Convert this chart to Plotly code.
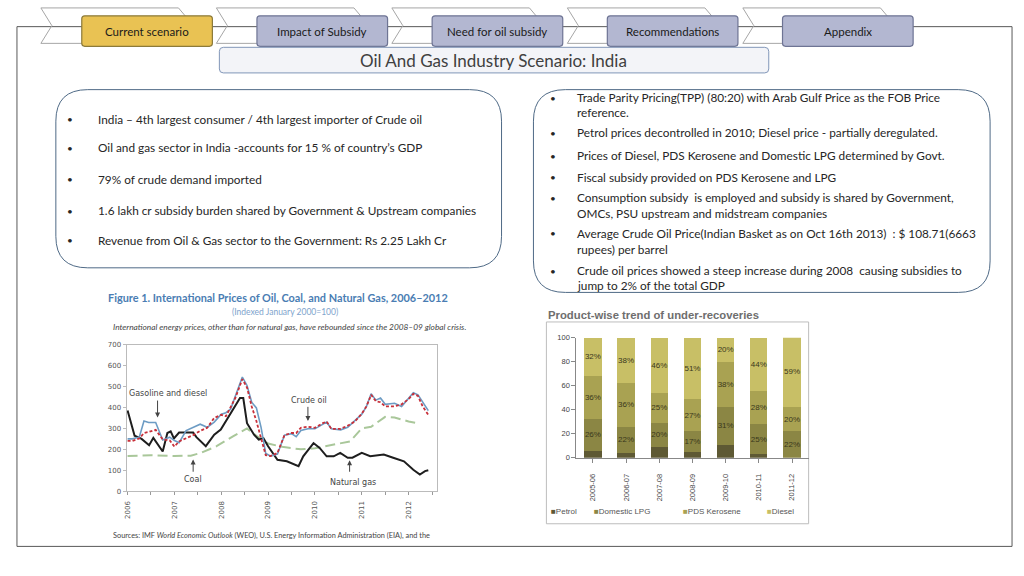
import plotly.graph_objects as go

W, H = 1024, 576

# ---------------- data ----------------
years = [2006, 2007, 2008, 2009, 2010, 2011, 2012]
y_ticks = [0, 100, 200, 300, 400, 500, 600, 700]

oil_t = [2006.0, 2006.1, 2006.25, 2006.35, 2006.45, 2006.6, 2006.75, 2006.9, 2007.0, 2007.1,
         2007.25, 2007.4, 2007.55, 2007.7, 2007.85, 2008.0, 2008.1, 2008.2, 2008.3, 2008.45,
         2008.55, 2008.65, 2008.75, 2008.85, 2008.95, 2009.05, 2009.2, 2009.35, 2009.5, 2009.6,
         2009.7, 2009.85, 2010.0, 2010.15, 2010.25, 2010.35, 2010.55, 2010.7, 2010.85, 2011.0,
         2011.1, 2011.2, 2011.3, 2011.4, 2011.5, 2011.7, 2011.85, 2012.0, 2012.1, 2012.2,
         2012.3, 2012.42]
gasoline_diesel = [250, 250, 258, 335, 328, 328, 245, 258, 242, 232,
                   290, 305, 320, 305, 330, 368, 375, 392, 455, 545,
                   505, 425, 398, 305, 180, 168, 178, 268, 275, 260,
                   290, 298, 298, 315, 330, 298, 293, 305, 337, 368,
                   405, 465, 435, 445, 415, 420, 405, 445, 470, 460,
                   425, 385]
crude_oil = [240, 240, 252, 278, 283, 293, 248, 243, 213, 238,
             253, 268, 288, 303, 350, 365, 358, 400, 445, 535,
             495, 405, 335, 253, 172, 168, 183, 268, 278, 278,
             303, 308, 303, 323, 333, 298, 298, 313, 333, 370,
             405, 460, 430, 425, 405, 405, 415, 440, 465, 455,
             405, 365]

gas_t = [2006.0, 2006.15, 2006.3, 2006.46, 2006.55, 2006.75, 2006.85, 2006.92, 2006.99, 2007.1,
         2007.4, 2007.47, 2007.67, 2007.85, 2007.99, 2008.2, 2008.4, 2008.47, 2008.55, 2008.7,
         2008.8, 2008.9, 2009.0, 2009.2, 2009.4, 2009.65, 2009.75, 2009.97, 2010.1, 2010.25,
         2010.4, 2010.54, 2010.7, 2010.8, 2011.0, 2011.18, 2011.47, 2011.67, 2011.9, 2012.1,
         2012.24, 2012.35, 2012.42]
natural_gas = [385, 265, 250, 220, 255, 190, 278, 286, 252, 280,
               280, 258, 215, 270, 295, 373, 445, 445, 325, 270,
               247, 253, 215, 150, 143, 120, 167, 230, 207, 167,
               167, 183, 160, 160, 183, 167, 175, 160, 143, 103,
               80, 96, 100]

coal_t = [2006.0, 2006.5, 2007.0, 2007.35, 2007.55, 2007.9, 2008.25, 2008.55, 2008.75, 2009.0,
          2009.3, 2009.7, 2010.0, 2010.4, 2010.75, 2011.0, 2011.2, 2011.5, 2011.7, 2012.0, 2012.2]
coal = [168, 172, 168, 170, 182, 215, 262, 300, 265, 228,
        212, 200, 205, 222, 238, 300, 308, 355, 352, 333, 325]

fy = ["2005-06", "2006-07", "2007-08", "2008-09", "2009-10", "2010-11", "2011-12"]
petrol = [6, 4, 9, 5, 11, 3, 0]
domestic_lpg = [26, 22, 20, 17, 31, 25, 22]
pds_kerosene = [36, 36, 25, 27, 38, 28, 20]
diesel = [32, 38, 46, 51, 20, 44, 59]
pct_ticks = [0, 20, 40, 60, 80, 100]

tabs = ["Current scenario", "Impact of Subsidy", "Need for oil subsidy", "Recommendations", "Appendix"]
left_points = [
    "India \u2013 4th largest consumer / 4th largest importer of Crude oil",
    "Oil and gas sector in India -accounts for 15 % of country\u2019s GDP",
    "79% of crude demand imported",
    "1.6 lakh cr subsidy burden shared by Government & Upstream companies",
    "Revenue from Oil & Gas sector to the Government: Rs 2.25 Lakh Cr",
]
right_points = [
    ["Trade Parity Pricing(TPP) (80:20) with Arab Gulf Price as the FOB Price", "reference."],
    ["Petrol prices decontrolled in 2010; Diesel price - partially deregulated."],
    ["Prices of Diesel, PDS Kerosene and Domestic LPG determined by Govt."],
    ["Fiscal subsidy provided on PDS Kerosene and LPG"],
    ["Consumption subsidy  is employed and subsidy is shared by Government,",
     "OMCs, PSU upstream and midstream companies"],
    ["Average Crude Oil Price(Indian Basket as on Oct 16th 2013)  : $ 108.71(6663",
     "rupees) per barrel"],
    ["Crude oil prices showed a steep increase during 2008  causing subsidies to",
     "jump to 2% of the total GDP"],
]

# ---------------- helpers ----------------
def px(x):
    return x / W

def py(y):
    return 1 - y / H

def rrect(x0, y0, x1, y1, r):
    pts = [
        ("M", [(x0 + r, y0)]), ("L", [(x1 - r, y0)]), ("Q", [(x1, y0), (x1, y0 + r)]),
        ("L", [(x1, y1 - r)]), ("Q", [(x1, y1), (x1 - r, y1)]), ("L", [(x0 + r, y1)]),
        ("Q", [(x0, y1), (x0, y1 - r)]), ("L", [(x0, y0 + r)]), ("Q", [(x0, y0), (x0 + r, y0)]),
    ]
    s = ""
    for cmd, ps in pts:
        s += cmd + " " + " ".join(f"{px(a):.5f},{py(b):.5f}" for a, b in ps) + " "
    return s + "Z"

def poly(points, close=True):
    s = "M " + " L ".join(f"{px(a):.5f},{py(b):.5f}" for a, b in points)
    return s + (" Z" if close else "")

BODY = "Lato"
fig = go.Figure()

# ---------------- line chart ----------------
fig.add_trace(go.Scatter(x=coal_t, y=coal, mode="lines", name="Coal",
                         line=dict(color="#A9C79A", width=2, dash="10px,5px"),
                         xaxis="x", yaxis="y", showlegend=False))
fig.add_trace(go.Scatter(x=gas_t, y=natural_gas, mode="lines", name="Natural gas",
                         line=dict(color="#1E1E1E", width=2),
                         xaxis="x", yaxis="y", showlegend=False))
fig.add_trace(go.Scatter(x=oil_t, y=gasoline_diesel, mode="lines", name="Gasoline and diesel",
                         line=dict(color="#6D9CC4", width=1.6),
                         xaxis="x", yaxis="y", showlegend=False))
fig.add_trace(go.Scatter(x=oil_t, y=crude_oil, mode="lines", name="Crude oil",
                         line=dict(color="#C8303A", width=1.8, dash="3px,2px"),
                         xaxis="x", yaxis="y", showlegend=False))

half_ticks = [y + h for y in years for h in (0, 0.5)]
half_text = [str(y) if h == 0 else "" for y in years for h in (0, 0.5)]

# ---------------- bar chart ----------------
bar_colors = ["#5E5934", "#8B8644", "#A9A252", "#C8BF66"]
series = [("Petrol", petrol), ("Domestic LPG", domestic_lpg),
          ("PDS Kerosene", pds_kerosene), ("Diesel", diesel)]
for (name, vals), col in zip(series, bar_colors):
    txt = [""] * len(vals) if name == "Petrol" else [f"{v}%" for v in vals]
    fig.add_trace(go.Bar(x=fy, y=vals, name=name, marker=dict(color=col, line=dict(width=0)),
                         text=txt, textposition="inside", insidetextanchor="middle",
                         textangle=0, constraintext="none",
                         textfont=dict(size=8, color="#3A381C", family="Liberation Sans"),
                         xaxis="x2", yaxis="y2", showlegend=False))

axis_font = dict(family="DejaVu Sans", size=7, color="#555555")
fig.update_layout(
    width=W, height=H, margin=dict(l=0, r=0, t=0, b=0),
    paper_bgcolor="white", plot_bgcolor="white",
    barmode="stack", bargap=0.48, showlegend=False,
    xaxis=dict(domain=[px(124), px(435)], range=[2005.98, 2012.6], tickmode="array", anchor="y",
               tickvals=half_ticks, ticktext=half_text, tickangle=-90, ticklabelstandoff=3,
               tickfont=axis_font, ticks="outside", ticklen=3, tickcolor="#999",
               showgrid=False, zeroline=False, showline=True, linecolor="#BBBBBB", mirror=True),
    yaxis=dict(domain=[py(495), py(346)], range=[0, 700], tickmode="array", tickvals=y_ticks,
               anchor="x",
               tickfont=axis_font, ticks="outside", ticklen=3, tickcolor="#BBB",
               showgrid=False, zeroline=False, showline=True, linecolor="#BBBBBB", mirror=True),
    xaxis2=dict(domain=[px(575), px(808)], type="category", tickangle=-90, anchor="y2",
                ticklabelstandoff=8,
                tickfont=dict(family="Liberation Sans", size=7.5, color="#444"),
                ticks="outside", ticklen=4, tickcolor="#888", showline=True, linecolor="#888",
                showgrid=False),
    yaxis2=dict(domain=[py(461), py(339)], range=[0, 100], tickmode="array", tickvals=pct_ticks,
                anchor="x2",
                ticksuffix="%", tickfont=dict(family="Liberation Sans", size=7.5, color="#444"),
                ticks="outside", ticklen=4, tickcolor="#888", showline=True, linecolor="#888",
                showgrid=False, zeroline=False),
)

shapes = []
# outer frame
shapes.append(dict(type="rect", xref="paper", yref="paper", x0=px(14), x1=px(1012), y0=py(551), y1=py(23),
                   line=dict(color="#595959", width=1), fillcolor="rgba(0,0,0,0)", layer="below"))
# chevrons
for k in range(5):
    xl = 38 + 176 * k
    pts = [(xl, 4), (xl + 138, 4), (xl + 153, 22), (xl + 138, 40), (xl, 40), (xl + 11, 22)]
    shapes.append(dict(type="path", xref="paper", yref="paper", path=poly(pts),
                       line=dict(color="#A6A6A6", width=1), fillcolor="rgba(0,0,0,0)"))
# tab boxes
for k, t in enumerate(tabs):
    x0 = 79 + 175.7 * k
    fill = "#E9C253" if k == 0 else "#B3B7D1"
    edge = "#8C7A3A" if k == 0 else "#6E7494"
    shapes.append(dict(type="path", xref="paper", yref="paper", path=rrect(x0, 12, x0 + 131, 43, 3),
                       line=dict(color=edge, width=1.2), fillcolor=fill))
# title box
shapes.append(dict(type="path", xref="paper", yref="paper", path=rrect(217, 44, 768, 70, 4),
                   line=dict(color="#8196B8", width=1), fillcolor="#F3F4F8"))
# text boxes
shapes.append(dict(type="path", xref="paper", yref="paper", path=rrect(53, 87, 500, 268, 32),
                   line=dict(color="#4F6A86", width=1), fillcolor="rgba(0,0,0,0)"))
shapes.append(dict(type="path", xref="paper", yref="paper", path=rrect(532, 87, 990, 293, 32),
                   line=dict(color="#4F6A86", width=1), fillcolor="rgba(0,0,0,0)"))
# bar chart frame
shapes.append(dict(type="rect", xref="paper", yref="paper", x0=px(545), x1=px(808), y0=py(528), y1=py(323),
                   line=dict(color="#BDBDBD", width=1), fillcolor="rgba(0,0,0,0)", layer="below"))
fig.update_layout(shapes=shapes)

ann = []
def text(x, y, s, size=11, color="#262626", family=BODY, xanchor="left", **kw):
    ann.append(dict(xref="paper", yref="paper", x=px(x), y=py(y), text=s, showarrow=False,
                    xanchor=xanchor, yanchor="middle", font=dict(size=size, color=color, family=family), **kw))

for k, t in enumerate(tabs):
    text(79 + 175.7 * k + 65.5, 27.5, t, size=11.5, color="#1A1A1A", xanchor="center")
text(492, 57, "Oil And Gas Industry Scenario: India", size=17, color="#404040", xanchor="center")

for i, s in enumerate(left_points):
    yy = [117, 146, 178, 210, 240][i]
    text(67, yy, "\u2022", size=10, xanchor="center")
    text(93, yy, s, size=11.8)

right_y = [[95, 110], [131], [154], [176], [197, 213], [233, 249], [271, 286]]
for lines, ys in zip(right_points, right_y):
    text(552, ys[0], "\u2022", size=10, xanchor="center")
    for s, yy in zip(lines, ys):
        text(574, yy, s, size=11.8)

# line chart headings
text(276, 298, "<b>Figure 1. International Prices of Oil, Coal, and Natural Gas, 2006\u20132012</b>",
     size=10.9, color="#4A7DB3", family="Lato", xanchor="center")
text(283, 313, "(Indexed January 2000=100)", size=8.5, color="#7EA3CC", family="Lato", xanchor="center")
text(108, 328, "<i>International energy prices, other than for natural gas, have rebounded since the 2008\u201309 global crisis.</i>",
     size=8.3, color="#444444", family="Lato")
text(108, 540, "Sources: IMF <i>World Economic Outlook</i> (WEO), U.S. Energy Information Administration (EIA), and the",
     size=7.35, color="#444444", family="Lato")
# bar chart heading
text(545, 316, "<b>Product-wise trend of under-recoveries</b>", size=11.3, color="#6E6E6E",
     family="Liberation Sans")

# bar chart legend (drawn as text items)
legend_x = [548, 591, 680, 764]
for (name, _), col, lx in zip(series, bar_colors, legend_x):
    text(lx, 516, f"<span style='color:{col}'>\u25A0</span>{name}", size=8, color="#555555",
         family="Liberation Sans")

# line chart callouts
lab_font = dict(family="DejaVu Sans", size=8, color="#444444")
callouts = [
    ("Gasoline and diesel", 2006.87, 468, 2006.64, 440, 352),
    ("Crude oil", 2009.87, 435, 2009.85, 410, 335),
    ("Coal", 2007.40, 57, 2007.40, 86, 152),
    ("Natural gas", 2010.81, 43, 2010.74, 86, 148),
]
for lab, tx, ty, axx, tail, head in callouts:
    ann.append(dict(xref="x", yref="y", x=tx, y=ty, text=lab, showarrow=False, font=lab_font))
    ann.append(dict(xref="x", yref="y", x=axx, y=head, ax=axx, ay=tail, axref="x", ayref="y",
                    text="", showarrow=True, arrowhead=2, arrowsize=1, arrowwidth=1,
                    arrowcolor="#444444"))

fig.update_layout(annotations=ann)
fig.write_html("out.html", config={"displayModeBar": False},
               post_script="document.body.style.margin='0';document.body.style.overflow='hidden';")
